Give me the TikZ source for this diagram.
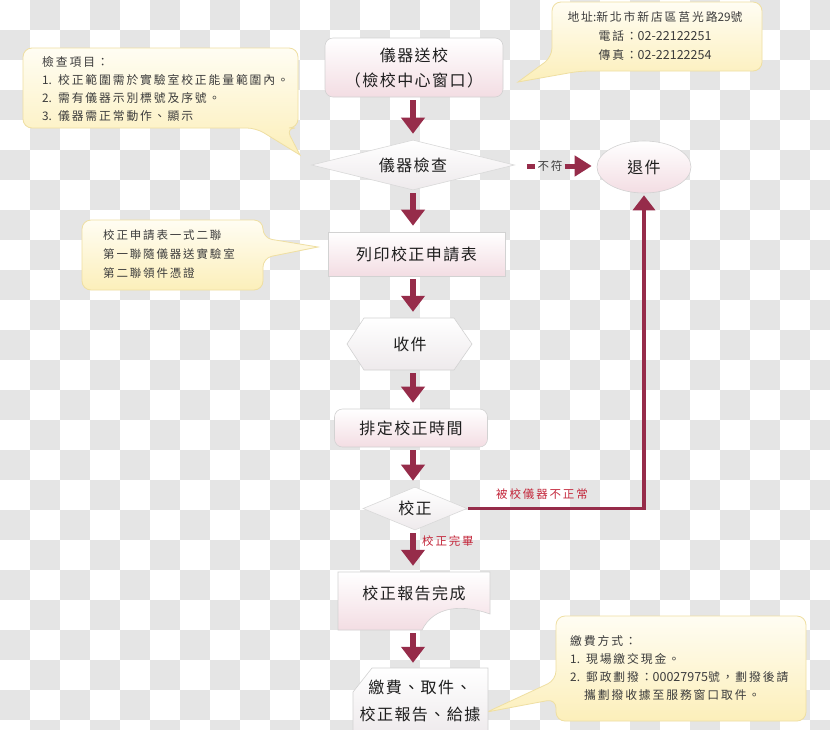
\documentclass[tikz,border=0pt]{standalone}
\usepackage{fontspec}
\setmainfont{Noto Sans CJK TC}
\newfontfamily\nodefont{Noto Sans CJK TC}[LetterSpace=9]
\newfontfamily\calfont{Noto Sans CJK TC}[LetterSpace=16]
\newfontfamily\numfont{Noto Sans CJK TC}
\newcommand\nm[1]{{\numfont #1}}
\usetikzlibrary{arrows.meta,shapes.geometric,calc}
\definecolor{arr}{HTML}{962C4A}
\definecolor{lab}{HTML}{C3263A}
\definecolor{chk}{HTML}{E5E5E5}
\definecolor{pinkb}{HTML}{F3DDE3}
\definecolor{grayb}{HTML}{EEEAEC}
\definecolor{calT}{HTML}{FFFDF3}
\definecolor{calB}{HTML}{FCEFBA}
\definecolor{calD}{HTML}{EFDFA2}
\definecolor{txt}{HTML}{1E1E1E}
\definecolor{ctxt}{HTML}{3C3C3C}
\tikzset{
  nodetext/.style={font=\nodefont\fontsize{16}{25}\selectfont, text=txt, align=center},
  procbox/.style={nodetext, draw=gray!35, line width=0.6pt, top color=white, bottom color=pinkb, inner sep=0pt},
  decbox/.style={nodetext, draw=gray!30, line width=0.6pt, top color=white, bottom color=grayb, shape=diamond, inner sep=0pt},
  plain/.style={nodetext, inner sep=0pt},
  shapefill/.style={draw=gray!35, line width=0.6pt, top color=white, bottom color=#1},
  bigarrow/.style={draw=arr, line width=6pt, -{Triangle[width=23pt,length=16pt]}, shorten <=3pt, shorten >=6pt},
  backarrow/.style={draw=arr, line width=3.5pt, -{Triangle[width=22pt,length=15pt]}, shorten >=2pt},
  callout/.style={top color=calT, bottom color=calB, draw=calD, line width=0.8pt},
  caltext/.style={font=\calfont\fontsize{11.8}{18.3}\selectfont, text=ctxt, align=left, inner sep=0pt},
  redlabel/.style={font=\calfont\fontsize{11.5}{14}\selectfont, text=lab, inner sep=1pt}
}
\begin{document}
\begin{tikzpicture}[x=1pt,y=-1pt]
\useasboundingbox (0,0) rectangle (830,729);
% transparency checkerboard
\begin{scope}
\clip (0,0) rectangle (830,729);
\fill[white] (0,0) rectangle (830,729);
\foreach \i in {0,...,27}{\foreach \j in {0,...,24}{%
  \pgfmathtruncatemacro\s{mod(\i+\j,2)}%
  \ifnum\s=1 \fill[chk] (\i*30,\j*30) rectangle ++(30,30);\fi}}
\end{scope}

\coordinate (ax) at (413,0);

% callouts
\path[callout] (150,48) [rounded corners=9pt] -- (298,48) -- (298,128) -- (286,128) [sharp corners] -- (300,155) [rounded corners=9pt] -- (256,128) -- (23,128) -- (23,48) -- cycle;
\node[caltext, anchor=west] (ca) at (42,89) {檢查項目：\\\nm{1.} 校正範圍需於實驗室校正能量範圍內。\\\nm{2.} 需有儀器示別標號及序號。\\\nm{3.} 儀器需正常動作、顯示};

\path[callout] (650,2) [rounded corners=9pt] -- (762,2) -- (762,71) -- (580,71) [sharp corners] -- (518,82) [rounded corners=9pt] -- (552,57) -- (552,2) -- cycle;
\node[caltext, align=center, font=\calfont\fontsize{11.8}{19}\selectfont] (cb) at (655,36) {地址{\numfont :}新北市新店區莒光路\nm{29}號\\電話：\nm{\fontsize{12.5}{19}\selectfont 02-22122251}\\傳真：\nm{\fontsize{12.5}{19}\selectfont 02-22122254}};

\path[callout] (170,220) [rounded corners=9pt] -- (263,220) -- (263,238) [sharp corners] -- (318,247) [rounded corners=9pt] -- (263,258) -- (263,290) -- (82,290) -- (82,220) -- cycle;
\node[caltext, anchor=west, font=\calfont\fontsize{11.5}{19}\selectfont] (cc) at (103,254) {校正申請表一式二聯\\第一聯隨儀器送實驗室\\第二聯領件憑證};

\path[callout] (680,616) [rounded corners=9pt] -- (806,616) -- (806,721) -- (556,721) -- (556,699) [sharp corners] -- (487,712) [rounded corners=9pt] -- (556,680) -- (556,616) -- cycle;
\node[caltext, anchor=west] (cd) at (570,668) {繳費方式：\\\nm{1.} 現場繳交現金。\\\nm{2.} 郵政劃撥：\nm{\fontsize{12.5}{18}\selectfont 00027975}號，劃撥後請\\\hspace*{14pt}攜劃撥收據至服務窗口取件。};

% main flow nodes
\node[procbox, rounded corners=8pt, minimum width=178pt, minimum height=59pt] (a0) at (414,67.5) {儀器送校\\（檢校中心窗口）};
\node[decbox, aspect=4, minimum width=203pt, minimum height=50pt] (d1) at (413,165) {儀器檢查};
\node[procbox, shape=ellipse, minimum width=94pt, minimum height=52pt] (e1) at (644,167) {退件};
\node[procbox, minimum width=177pt, minimum height=44pt] (b2) at (416.5,254) {列印校正申請表};

\path[shapefill=grayb] (347,344) -- (364,318) -- (454,318) -- (472,344) -- (454,370) -- (364,370) -- cycle;
\node[plain, minimum width=125pt, minimum height=52pt] (hx) at (410,344) {收件};

\node[procbox, rounded corners=8pt, minimum width=153pt, minimum height=38pt] (b3) at (411,428) {排定校正時間};
\node[decbox, aspect=2.4, minimum width=104pt, minimum height=43pt] (d2) at (415,508.5) {校正};

\path[shapefill=pinkb] (338,572) -- (490,572) -- (490,614) .. controls (462,604) and (434,606) .. (422,630) -- (338,630) -- cycle;
\node[plain, minimum width=152pt, minimum height=58pt] (dc) at (414,601) {};
\node[plain] (dct) at ($(dc.center)+(0,-8)$) {校正報告完成};

\path[shapefill=grayb] (353,692) -- (372,668) -- (488,668) -- (488,735) -- (353,735) -- cycle;
\node[plain, minimum width=135pt, minimum height=64pt, font=\nodefont\fontsize{16}{27}\selectfont] (fb) at (420,701) {繳費、取件、\\校正報告、給據};

% labels
\node[font=\calfont\fontsize{11.5}{14}\selectfont, text=ctxt, inner sep=2pt] (lno) at (550,166) {不符};
\node[redlabel] (lbad) at (542,494) {被校儀器不正常};
\node[redlabel, anchor=west] (lok) at (421,541) {校正完畢};
\coordinate (nst) at ($(d1.east)+(12,1)$);

% connectors
\draw[bigarrow] (a0.south -| ax) -- (d1.north -| ax);
\draw[arr, line width=5pt] (nst) -- (lno.west);
\draw[draw=arr, line width=5pt, -{Triangle[width=20pt,length=17pt]}, shorten >=5pt] (lno.east) -- (e1.west |- lno.east);
\draw[bigarrow] (d1.south -| ax) -- (b2.north -| ax);
\draw[bigarrow] (b2.south -| ax) -- (hx.north -| ax);
\draw[bigarrow] (hx.south -| ax) -- (b3.north -| ax);
\draw[bigarrow] (b3.south -| ax) -- (d2.north -| ax);
\draw[backarrow] ($(d2.east)+(1,0)$) -| (e1.south);
\draw[bigarrow] (d2.south -| ax) -- (dc.north -| ax);
\draw[bigarrow] (dc.south -| ax) -- (fb.north -| ax);
\end{tikzpicture}
\end{document}
